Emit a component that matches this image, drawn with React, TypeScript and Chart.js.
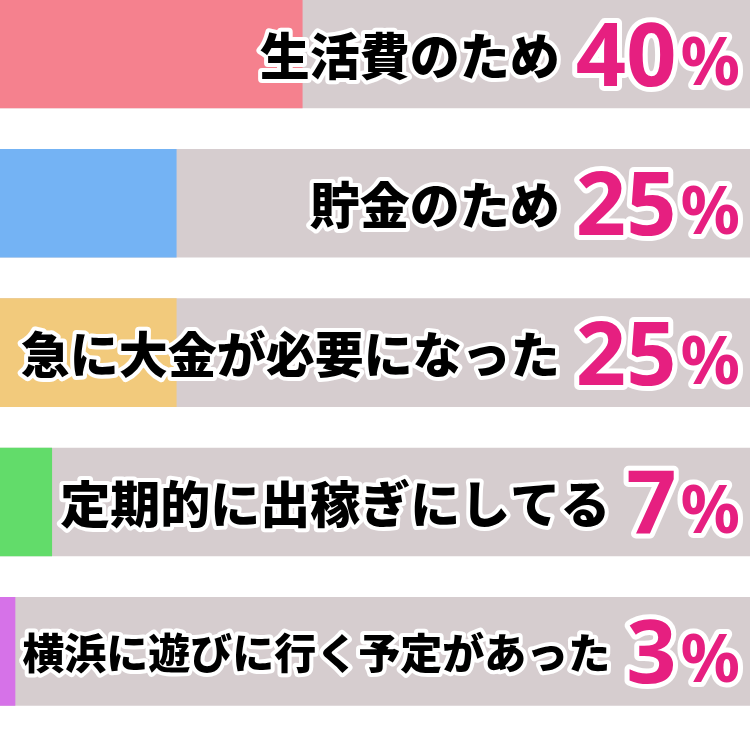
import { useEffect, useRef } from 'react';
import { Chart, registerables } from 'chart.js';

Chart.register(...registerables);

const LABELS = ['生活費のため', '貯金のため', '急に大金が必要になった', '定期的に出稼ぎにしてる', '横浜に遊びに行く予定があった'];
const BAR_VALUES = [40.3, 23.5, 23.5, 6.9, 2.0];
const PERCENTS = [40, 25, 25, 7, 3];
const COLORS = ['#f5818e', '#74b3f4', '#f2ca7c', '#62dc6a', '#d672e8'];
const TRACK = 100;

const LABEL_FONT = '"Noto Sans CJK JP", sans-serif';
const NUM_FONT = '"Noto Sans", sans-serif';
const MAGENTA = '#e61f80';

const outlinedText = (ctx: CanvasRenderingContext2D, text: string, x: number, y: number, fill: string, stroke: number) => {
  ctx.lineJoin = 'round';
  ctx.miterLimit = 2;
  ctx.lineWidth = stroke;
  ctx.strokeStyle = '#ffffff';
  ctx.strokeText(text, x, y);
  ctx.fillStyle = fill;
  ctx.fillText(text, x, y);
};

const labelPlugin = {
  id: 'rowLabels',
  afterDatasetsDraw(chart: Chart) {
    const { ctx, chartArea, scales } = chart;
    ctx.save();
    LABELS.forEach((label, i) => {
      const cy = scales.y.getPixelForValue(i);
      const right = chartArea.right - 10;

      // percent sign
      ctx.textAlign = 'right';
      ctx.textBaseline = 'alphabetic';
      ctx.font = `bold 66px ${NUM_FONT}`;
      const pctW = ctx.measureText('%').width;
      outlinedText(ctx, '%', right, cy + 31, MAGENTA, 10);

      // number
      ctx.font = `bold 88px ${NUM_FONT}`;
      const num = String(PERCENTS[i]);
      const numRight = right - pctW - 4;
      const numW = ctx.measureText(num).width;
      outlinedText(ctx, num, numRight, cy + 32, MAGENTA, 10);

      // category label, shrunk to fit if needed
      const labelRight = numRight - numW - 16;
      const avail = labelRight - 20;
      let size = 50;
      ctx.font = `900 ${size}px ${LABEL_FONT}`;
      const w = ctx.measureText(label).width;
      if (w > avail) {
        size = Math.floor((size * avail) / w);
        ctx.font = `900 ${size}px ${LABEL_FONT}`;
      }
      ctx.textBaseline = 'middle';
      outlinedText(ctx, label, labelRight, cy + 2, '#000000', 8);
    });
    ctx.restore();
  },
};

export default function App() {
  const ref = useRef<HTMLCanvasElement>(null);
  const chart = useRef<Chart | null>(null);

  useEffect(() => {
    if (!ref.current) return;
    chart.current?.destroy();
    chart.current = new Chart(ref.current, {
      type: 'bar',
      data: {
        datasets: [
          {
            data: BAR_VALUES.map((v, i) => ({ x: v, y: i })),
            backgroundColor: COLORS,
            borderWidth: 0,
            barThickness: 108,
            grouped: false,
            order: 0,
          },
          {
            data: LABELS.map((_, i) => ({ x: TRACK, y: i })),
            backgroundColor: '#d6cdcf',
            borderWidth: 0,
            barThickness: 108,
            grouped: false,
            order: 1,
          },
        ],
      },
      options: {
        indexAxis: 'y',
        responsive: true,
        maintainAspectRatio: false,
        animation: false,
        layout: { padding: 0 },
        plugins: {
          legend: { display: false },
          tooltip: { enabled: false },
        },
        scales: {
          x: { type: 'linear', min: 0, max: 100, display: false },
          y: { type: 'linear', min: -0.3604, max: 4.66, reverse: true, offset: false, display: false },
        },
      },
      plugins: [labelPlugin],
    });

    return () => { chart.current?.destroy(); };
  }, []);

  return (
    <div style={{ position: 'fixed', left: 0, top: 0, width: 750, height: 750, background: '#fff' }}>
      <canvas ref={ref} />
    </div>
  );
}
